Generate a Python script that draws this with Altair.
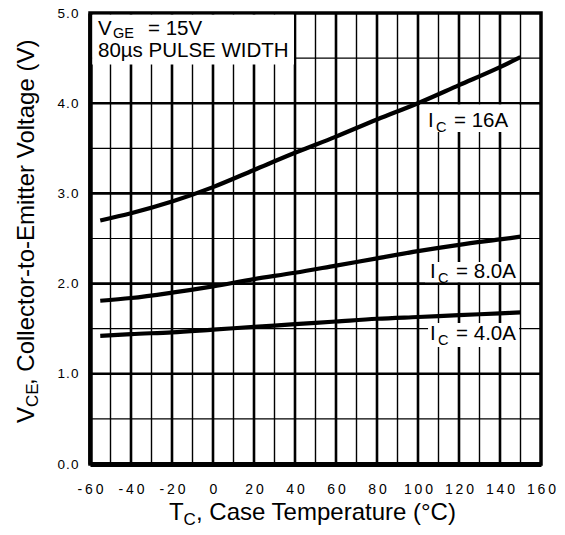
import altair as alt
import pandas as pd

# ---------------- data ----------------
temps = [-55, -40, -20, 0, 20, 40, 60, 80, 100, 120, 140, 150]
vce_16a = [2.70, 2.78, 2.91, 3.07, 3.26, 3.45, 3.63, 3.82, 4.00, 4.20, 4.40, 4.51]
vce_8a = [1.81, 1.84, 1.90, 1.97, 2.05, 2.12, 2.20, 2.28, 2.36, 2.43, 2.49, 2.52]
vce_4a = [1.42, 1.44, 1.46, 1.49, 1.52, 1.55, 1.58, 1.61, 1.63, 1.65, 1.67, 1.68]
series_names = ["16A", "8.0A", "4.0A"]

x_label_ticks = list(range(-60, 161, 20))
y_label_ticks = [0, 1, 2, 3, 4, 5]
x_grid = list(range(-50, 151, 10))
y_grid = [0.5, 1.0, 1.5, 2.0, 2.5, 3.0, 3.5, 4.0, 4.5]

# curve labels (I_C = ...)
ic_main = ["I", "I", "I"]
ic_sub = ["C", "C", "C"]
ic_rest = ["= 16A", "= 8.0A", "= 4.0A"]
ic_label_x = [104.9, 105.9, 105.9]
ic_label_y = [3.736, 2.062, 1.375]

# white label backgrounds
box_x1 = [-58.9, 101.0, 103.4, 104.9]
box_x2 = [39.5, 149.3, 149.3, 149.3]
box_y1 = [4.43, 3.68, 2.015, 1.297]
box_y2 = [4.98, 3.985, 2.24, 1.563]

# condition note
note_main = ["V"]
note_sub = ["GE"]
note_rest = ["= 15V"]
note_line2 = ["80µs PULSE WIDTH"]
note_x = [-56.1]
note_y1 = [4.756]
note_y2 = [4.515]

# axis titles
x_title_parts = ["T", "C", ", Case Temperature (°C)"]
y_title_parts = ["V", "CE", "\u00a0, Collector-to-Emitter Voltage (V)"]

FONT = "Liberation Sans"
TFS = 24  # axis title font size

# ---------------- tables ----------------
rows = []
for name, vals in zip(series_names, [vce_16a, vce_8a, vce_4a]):
    for t, v in zip(temps, vals):
        rows.append({"series": name, "tc": t, "vce": v})
curves = pd.DataFrame(rows)

vgrid_df = pd.DataFrame({"gx": x_grid,
                         "w": [2.6 if v % 20 == 0 else 1.4 for v in x_grid]})
hgrid_df = pd.DataFrame({"gy": y_grid,
                         "w": [2.6 if v % 1 == 0 else 1.2 for v in y_grid]})

ic_df = pd.DataFrame({"x": ic_label_x, "y": ic_label_y, "main": ic_main,
                      "sub": ic_sub, "rest": ic_rest})
box_df = pd.DataFrame({"bx1": box_x1, "bx2": box_x2, "by1": box_y1, "by2": box_y2})
note_df = pd.DataFrame({"x": note_x, "y1": note_y1, "y2": note_y2,
                        "main": note_main, "sub": note_sub,
                        "rest": note_rest, "line2": note_line2})

x_scale = alt.Scale(domain=[-60, 160], nice=False, zero=False)
y_scale = alt.Scale(domain=[0, 5], nice=False, zero=False)

x_axis = alt.Axis(
    values=x_label_ticks, title=None, grid=False,
    ticks=False, tickSize=0,
    labelExpr="join(split(toString(datum.value), ''), '\u2009')",
    labelFont=FONT, labelFontSize=14, labelColor="black", labelPadding=18,
    labelOverlap=False, labelFlush=False,
    domainColor="black", domainWidth=5,
)
y_axis = alt.Axis(
    values=y_label_ticks, title=None, grid=False,
    ticks=False, tickSize=0,
    labelExpr="join(split(format(datum.value, '.1f'), ''), '\u200a')",
    labelFont=FONT, labelFontSize=13.5, labelColor="black", labelPadding=12,
    labelOverlap=False, labelFlush=False,
    domainColor="black", domainWidth=4.5,
)

vgrid = alt.Chart(vgrid_df).mark_rule(color="black").encode(
    x=alt.X("gx:Q", scale=x_scale, axis=x_axis),
    size=alt.Size("w:Q", scale=None, legend=None),
)
hgrid = alt.Chart(hgrid_df).mark_rule(color="black").encode(
    y=alt.Y("gy:Q", scale=y_scale, axis=y_axis),
    size=alt.Size("w:Q", scale=None, legend=None),
)

lines = alt.Chart(curves).mark_line(
    color="black", strokeWidth=4.2, interpolate="monotone", strokeJoin="round"
).encode(
    x=alt.X("tc:Q", scale=x_scale, axis=x_axis),
    y=alt.Y("vce:Q", scale=y_scale, axis=y_axis),
    detail="series:N",
)

boxes = alt.Chart(box_df).mark_rect(color="white", opacity=1).encode(
    x=alt.X("bx1:Q", scale=x_scale, axis=x_axis),
    x2="bx2:Q",
    y=alt.Y("by1:Q", scale=y_scale, axis=y_axis),
    y2="by2:Q",
)


def seg(df, xf, yf, tf, size, dx=0, dy=0):
    return alt.Chart(df).mark_text(
        font=FONT, fontSize=size, color="black", align="left",
        baseline="alphabetic", dx=dx, dy=dy,
    ).encode(
        x=alt.X(f"{xf}:Q", scale=x_scale, axis=x_axis),
        y=alt.Y(f"{yf}:Q", scale=y_scale, axis=y_axis),
        text=f"{tf}:N",
    )


ic_layers = [
    seg(ic_df, "x", "y", "main", 20.5),
    seg(ic_df, "x", "y", "sub", 14.5, dx=8, dy=5),
    seg(ic_df, "x", "y", "rest", 20.5, dx=26),
]
note_layers = [
    seg(note_df, "x", "y1", "main", 20.5),
    seg(note_df, "x", "y1", "sub", 14.5, dx=15, dy=3),
    seg(note_df, "x", "y1", "rest", 20.5, dx=50),
    seg(note_df, "x", "y2", "line2", 20.5),
]

# axis titles (with subscripts) placed outside the plot area
xt_df = pd.DataFrame({"t": x_title_parts})
yt_df = pd.DataFrame({"t": y_title_parts})


def title_seg(df, idx, size, px, py, dx, dy, angle=0):
    return alt.Chart(df).transform_filter(
        alt.FieldEqualPredicate(field="t", equal=df["t"][idx])
    ).mark_text(
        font=FONT, fontSize=size, color="black", align="left",
        baseline="alphabetic", dx=dx, dy=dy, angle=angle,
    ).encode(x=alt.value(px), y=alt.value(py), text="t:N")


XT_X, XT_Y = 79, 507
YT_X, YT_Y = -56, 410
title_layers = [
    title_seg(xt_df, 0, TFS, XT_X, XT_Y, 0, 0),
    title_seg(xt_df, 1, 17, XT_X, XT_Y, 14.5, 5),
    title_seg(xt_df, 2, TFS, XT_X, XT_Y, 27, 0),
    title_seg(yt_df, 0, TFS, YT_X, YT_Y, 0, 0, angle=270),
    title_seg(yt_df, 1, 17, YT_X, YT_Y, 16, 4, angle=270),
    title_seg(yt_df, 2, TFS, YT_X, YT_Y, 38, 0, angle=270),
]

chart = alt.layer(
    vgrid, hgrid, lines, boxes, *ic_layers, *note_layers, *title_layers
).properties(
    width=451, height=451,
    padding={"left": 90, "top": 13, "right": 24, "bottom": 71},
    autosize=alt.AutoSizeParams(type="none"),
    background="white",
).configure_view(stroke="black", strokeWidth=3.5)

chart.save("out.html", embed_options={"renderer": "svg", "actions": False})
